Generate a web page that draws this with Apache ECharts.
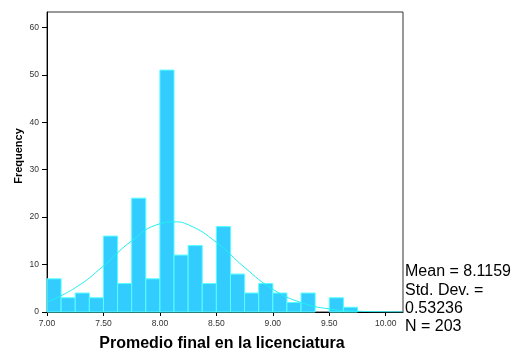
<!DOCTYPE html>
<html>
<head>
<meta charset="utf-8">
<script src="https://cdn.jsdelivr.net/npm/echarts@6/dist/echarts.min.js"></script>
<style>
  html, body { margin: 0; padding: 0; background: #fff; }
  #chart { width: 514px; height: 351px; }
</style>
</head>
<body>
<div id="chart"></div>
<script>
// histogram bins (width 0.125 starting at 7.00)
var binStart = 7.0;
var binWidth = 0.125;
var counts = [7, 3, 4, 3, 16, 6, 24, 7, 51, 12, 14, 6, 18, 8, 4, 6, 4, 2, 4, 0, 3, 1, 0, 0, 0];

// normal curve
var curveX = [7.0, 7.25, 7.5, 7.75, 8.0, 8.125, 8.25, 8.5, 8.75, 9.0, 9.25, 9.5, 9.75, 10.0, 10.15];
var curveY = [2.1, 5.1, 9.7, 15.0, 18.6, 19.0, 18.4, 14.7, 9.4, 4.8, 2.0, 0.65, 0.17, 0.04, 0.01];

var statLines = ['Mean = 8.1159', 'Std. Dev. =', '0.53236', 'N = 203'];
var xTitle = 'Promedio final en la licenciatura';
var yTitle = 'Frequency';

var font = 'Liberation Sans, Arial, sans-serif';

var binData = counts.map(function(c, i) {
    var s = binStart + i * binWidth;
    return [s, s + binWidth, c];
});
var curveData = curveX.map(function(x, i) { return [x, curveY[i]]; });

var chart = echarts.init(document.getElementById('chart'));

var texts = statLines.map(function(t, i) {
    return {
        type: 'text',
        left: 405,
        top: 264 + i * 18.3,
        style: { text: t, fontFamily: font, fontSize: 16, fill: '#000' }
    };
});
// axis titles
texts.push({
    type: 'text',
    x: 222, y: 343.5,
    style: { text: xTitle, fontFamily: font, fontSize: 16, fontWeight: 'bold', fill: '#000',
             align: 'center', verticalAlign: 'middle' }
});
texts.push({
    type: 'text',
    x: 19, y: 156,
    rotation: Math.PI / 2,
    style: { text: yTitle, fontFamily: font, fontSize: 11, fontWeight: 'bold', fill: '#000',
             align: 'center', verticalAlign: 'middle' }
});

var option = {
    animation: false,
    grid: {
        left: 47, top: 12, right: 111, bottom: 39,
        show: true,
        borderColor: '#333',
        borderWidth: 1
    },
    xAxis: {
        type: 'value',
        min: 7,
        max: 10.153,
        interval: 0.5,
        splitLine: { show: false },
        axisLine: { lineStyle: { color: '#000', width: 1 } },
        axisTick: { length: 4, lineStyle: { color: '#000' } },
        axisLabel: {
            showMaxLabel: false,
            margin: 7,
            fontFamily: font, fontSize: 8.5, color: '#333',
            formatter: function(v) { return v.toFixed(2); }
        }
    },
    yAxis: {
        type: 'value',
        min: 0,
        max: 63.25,
        interval: 10,
        splitLine: { show: false },
        axisLine: { show: true, lineStyle: { color: '#000', width: 1 } },
        axisTick: { show: true, length: 5, lineStyle: { color: '#000' } },
        axisLabel: {
            showMaxLabel: false,
            margin: 8,
            fontFamily: font, fontSize: 8.5, color: '#333'
        }
    },
    series: [
        {
            type: 'custom',
            data: binData,
            encode: { x: [0, 1], y: 2 },
            renderItem: function(params, api) {
                if (!api.value(2)) return null;
                var s = api.coord([api.value(0), 0]);
                var e = api.coord([api.value(1), api.value(2)]);
                return {
                    type: 'rect',
                    shape: { x: s[0], y: e[1], width: e[0] - s[0], height: s[1] - e[1] },
                    style: { fill: '#33ccff', stroke: '#55ffff', lineWidth: 1 }
                };
            },
            z: 2
        },
        {
            type: 'line',
            data: curveData,
            smooth: true,
            showSymbol: false,
            lineStyle: { color: '#22eef0', width: 1 },
            z: 3
        }
    ],
    graphic: texts
};
chart.setOption(option);
</script>
</body>
</html>
